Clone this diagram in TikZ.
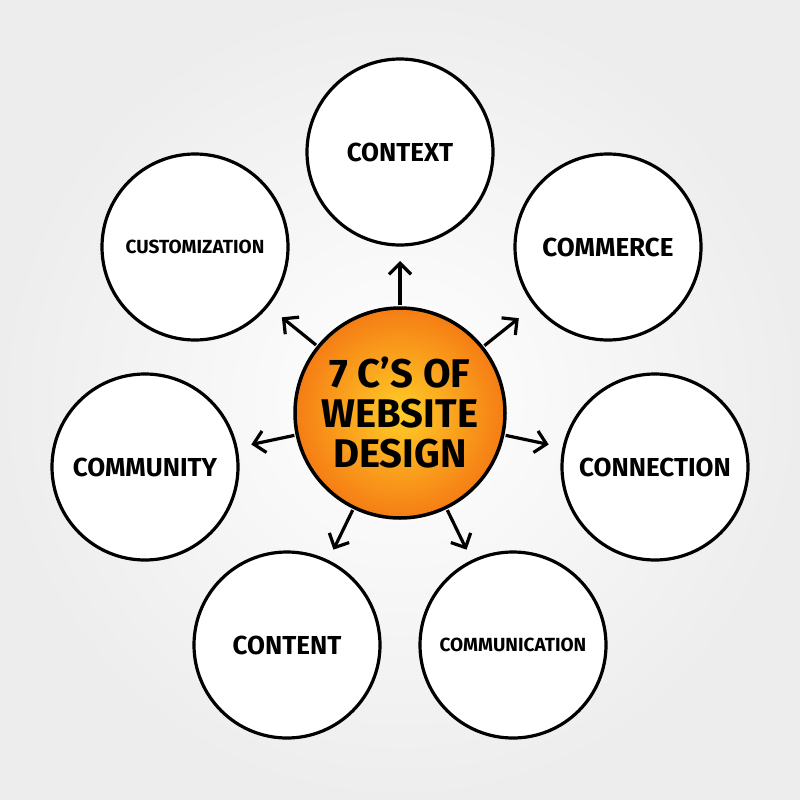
\documentclass[tikz,border=0pt]{standalone}
\usepackage{fontspec}
\setmainfont{Fira Sans}
\usetikzlibrary{arrows.meta,calc}
\begin{document}
\begin{tikzpicture}[x=1pt,y=-1pt,
  outer/.style={circle,draw=black,line width=3.2pt,fill=white,minimum size=186pt,inner sep=0pt,font=\bfseries\fontsize{26}{28}\selectfont},
  small/.style={font=\bfseries\fontsize{19}{20}\selectfont},
  arr/.style={line width=3.2pt,-{Straight Barb[length=11pt,width=22pt,line width=3.2pt]}}]
\shade[inner color=white,outer color=black!7] (0,0) rectangle (800,800);
\useasboundingbox (0,0) rectangle (800,800);
\definecolor{oin}{RGB}{255,205,40}
\definecolor{oout}{RGB}{245,125,20}
\node[circle,draw=black,line width=3.5pt,inner color=oin,outer color=oout,minimum size=210pt,inner sep=0pt,align=center,font=\bfseries\fontsize{40}{40}\selectfont] (c) at (400,413) {7 C'S OF\\WEBSITE\\DESIGN};
\node[outer] (n1) at (400,152) {CONTEXT};
\node[outer] (n2) at (608,247) {COMMERCE};
\node[outer,small] (n3) at (195,247) {CUSTOMIZATION};
\node[outer] (n4) at (145,467) {COMMUNITY};
\node[outer] (n5) at (655,467) {CONNECTION};
\node[outer] (n6) at (287,645) {CONTENT};
\node[outer,small] (n7) at (513,645) {COMMUNICATION};
\foreach \n in {n1,n2,n3,n4,n5,n6,n7}{
  \draw[arr] ($(c.center)!108pt!(\n.center)$) -- ($(c.center)!152pt!(\n.center)$);
}
\end{tikzpicture}
\end{document}
